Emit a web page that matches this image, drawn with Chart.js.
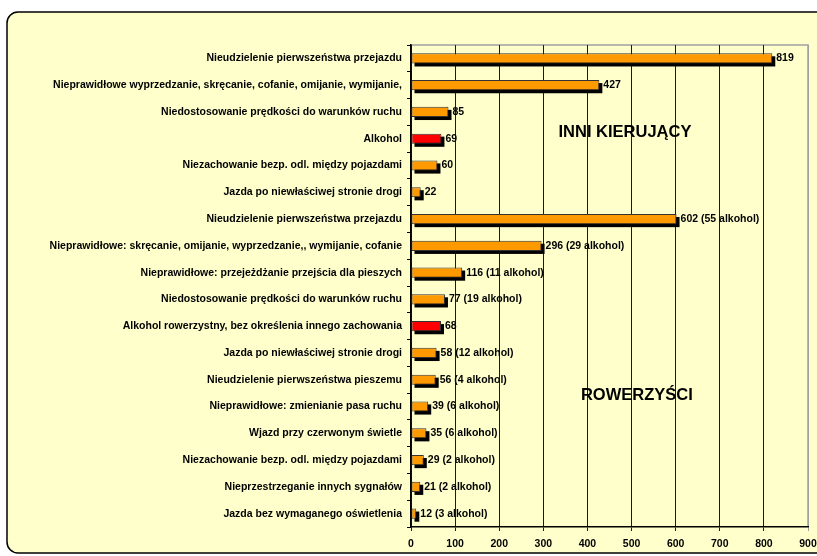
<!DOCTYPE html>
<html>
<head>
<meta charset="utf-8">
<script src="https://cdn.jsdelivr.net/npm/chart.js@4.4.1/dist/chart.umd.min.js"></script>
<style>
  html, body { margin: 0; padding: 0; background: #ffffff; }
  #wrap { width: 817px; height: 556px; position: relative; }
</style>
</head>
<body>
<div id="wrap"><canvas id="barchart" width="817" height="556"></canvas></div>
<script>
// przyczyny - najpierw inni kierujacy, potem rowerzysci
let labels1 = [
  'Nieudzielenie pierwszeństwa przejazdu',
  'Nieprawidłowe wyprzedzanie, skręcanie, cofanie, omijanie, wymijanie,',
  'Niedostosowanie prędkości do warunków ruchu',
  'Alkohol',
  'Niezachowanie bezp. odl. między pojazdami',
  'Jazda po niewłaściwej stronie drogi',
  'Nieudzielenie pierwszeństwa przejazdu',
  'Nieprawidłowe: skręcanie, omijanie, wyprzedzanie,, wymijanie, cofanie',
  'Nieprawidłowe: przejeżdżanie przejścia dla pieszych',
  'Niedostosowanie prędkości do warunków ruchu',
  'Alkohol rowerzystny, bez określenia innego zachowania',
  'Jazda po niewłaściwej stronie drogi',
  'Nieudzielenie pierwszeństwa pieszemu',
  'Nieprawidłowe: zmienianie pasa ruchu',
  'Wjazd przy czerwonym świetle',
  'Niezachowanie bezp. odl. między pojazdami',
  'Nieprzestrzeganie innych sygnałów',
  'Jazda bez wymaganego oświetlenia'
]
let data1 = [819, 427, 85, 69, 60, 22, 602, 296, 116, 77, 68, 58, 56, 39, 35, 29, 21, 12] // liczba zdarzen
let alkohol1 = [null, null, null, null, null, null, 55, 29, 11, 19, null, 12, 4, 6, 6, 2, 2, 3] // w tym alkohol
let ticks1 = [0, 100, 200, 300, 400, 500, 600, 700, 800, 900]
let groups1 = ['INNI KIERUJĄCY', 'ROWERZYŚCI']

let font = 'Liberation Sans, Arial, sans-serif'

// tlo: zolta ramka z zaokraglonymi rogami
let tlo = {
  id: 'tlo',
  beforeDraw(chart) {
    let ctx = chart.ctx
    ctx.save()
    ctx.fillStyle = '#ffffff'
    ctx.fillRect(0, 0, chart.width, chart.height)
    ctx.beginPath()
    ctx.roundRect(7, 12, 830, 541, 11)
    ctx.fillStyle = '#FFFFCC'
    ctx.fill()
    ctx.lineWidth = 1.5
    ctx.strokeStyle = '#000000'
    ctx.stroke()
    let a = chart.chartArea
    ctx.strokeStyle = '#a0a0a0'
    ctx.lineWidth = 1.5
    ctx.beginPath()
    ctx.moveTo(a.left, a.top)
    ctx.lineTo(a.right, a.top)
    ctx.lineTo(a.right, a.bottom)
    ctx.stroke()
    ctx.restore()
  }
}

// czarny cien pod slupkami
let cien = {
  id: 'cien',
  beforeDatasetsDraw(chart) {
    let ctx = chart.ctx
    let meta = chart.getDatasetMeta(0)
    ctx.save()
    ctx.fillStyle = '#000000'
    meta.data.forEach(bar => {
      let p = bar.getProps(['x', 'y', 'base', 'height'], true)
      ctx.fillRect(p.base + 3, p.y - p.height / 2 + 3, p.x - p.base, p.height)
    })
    ctx.restore()
  }
}

// etykiety wartosci i napisy grup
let napisy = {
  id: 'napisy',
  afterDatasetsDraw(chart) {
    let ctx = chart.ctx
    let meta = chart.getDatasetMeta(0)
    ctx.save()
    ctx.fillStyle = '#000000'
    ctx.font = 'bold 10.5px ' + font
    ctx.textBaseline = 'middle'
    ctx.textAlign = 'left'
    meta.data.forEach((bar, i) => {
      let tekst = String(data1[i])
      if (alkohol1[i] !== null) tekst += ' (' + alkohol1[i] + ' alkohol)'
      ctx.fillText(tekst, bar.x + 4, bar.y)
    })
    let x = chart.scales.x
    let y = chart.scales.y
    ctx.font = 'bold 16.5px ' + font
    ctx.textAlign = 'center'
    ctx.fillText(groups1[0], x.getPixelForValue(485), y.getPixelForValue(2.75))
    ctx.fillText(groups1[1], x.getPixelForValue(512), y.getPixelForValue(12.6))
    ctx.restore()
  }
}

let myChart1 = document.getElementById('barchart').getContext('2d')

let chart1 = new Chart(myChart1, {
  type: 'bar',
  data: {
    labels: labels1,
    datasets: [{
      data: data1,
      backgroundColor: labels1.map(l => l.startsWith('Alkohol') ? '#FF0000' : '#FF9900'),
      borderColor: '#333333',
      borderWidth: 1,
      borderSkipped: false,
      categoryPercentage: 1,
      barPercentage: 0.38
    }]
  },
  options: {
    indexAxis: 'y',
    responsive: false,
    animation: false,
    events: [],
    layout: { padding: { left: 10, top: 45, right: 9, bottom: 0 } },
    plugins: {
      legend: { display: false },
      title: { display: false },
      tooltip: { enabled: false }
    },
    scales: {
      x: {
        min: 0,
        max: 900,
        afterBuildTicks: s => { s.ticks = ticks1.map(v => ({ value: v })) },
        afterFit: s => { s.height = 29; s.paddingLeft = 0; s.paddingRight = 0 },
        border: { color: '#000000', width: 1.5 },
        grid: {
          color: c => c.tick && c.tick.value === 900 ? '#a0a0a0' : '#1a1a1a',
          lineWidth: 1,
          tickLength: 4
        },
        ticks: {
          color: '#000000',
          padding: 7,
          maxRotation: 0,
          font: { family: font, size: 10.5, weight: 'bold' }
        }
      },
      y: {
        afterFit: s => { s.width = 401; s.paddingTop = 0; s.paddingBottom = 0 },
        border: { color: '#000000', width: 1.5 },
        grid: { drawOnChartArea: false, color: '#000000', tickLength: 4 },
        ticks: {
          color: '#000000',
          padding: 5,
          autoSkip: false,
          font: { family: font, size: 10.5, weight: 'bold' }
        }
      }
    }
  },
  plugins: [tlo, cien, napisy]
})
</script>
</body>
</html>
